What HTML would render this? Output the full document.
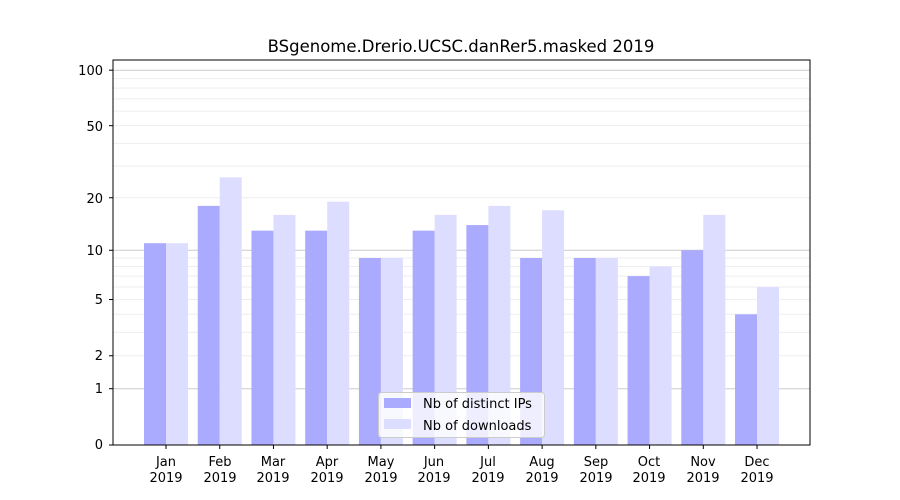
<!DOCTYPE html>
<html><head><meta charset="utf-8"><style>
body{margin:0;background:#fff}
svg{display:block;font-family:"DejaVu Sans","Liberation Sans",sans-serif}
</style></head><body>
<svg id="s" width="900" height="500" xmlns="http://www.w3.org/2000/svg">
<rect width="900" height="500" fill="#fff"/>
<g id="grid"></g>
<g id="bars"></g>
<rect x="113" y="60" width="697" height="385" fill="none" stroke="#000" stroke-width="1"/>
<g id="ticks"></g>
<text x="461" y="52" text-anchor="middle" font-size="16.5">BSgenome.Drerio.UCSC.danRer5.masked 2019</text>
<g font-size="13" text-anchor="end">
<text x="103" y="449">0</text>
<text x="103" y="393">1</text>
<text x="103" y="360">2</text>
<text x="103" y="304">5</text>
<text x="103" y="255">10</text>
<text x="103" y="203">20</text>
<text x="103" y="131">50</text>
<text x="103" y="75">100</text>
</g>
<g font-size="13" text-anchor="middle">
<text x="166" y="466">Jan</text><text x="166" y="482">2019</text>
<text x="220" y="466">Feb</text><text x="220" y="482">2019</text>
<text x="273" y="466">Mar</text><text x="273" y="482">2019</text>
<text x="327" y="466">Apr</text><text x="327" y="482">2019</text>
<text x="381" y="466">May</text><text x="381" y="482">2019</text>
<text x="434" y="466">Jun</text><text x="434" y="482">2019</text>
<text x="488" y="466">Jul</text><text x="488" y="482">2019</text>
<text x="542" y="466">Aug</text><text x="542" y="482">2019</text>
<text x="596" y="466">Sep</text><text x="596" y="482">2019</text>
<text x="649" y="466">Oct</text><text x="649" y="482">2019</text>
<text x="703" y="466">Nov</text><text x="703" y="482">2019</text>
<text x="757" y="466">Dec</text><text x="757" y="482">2019</text>
</g>
<rect x="378.5" y="392.5" width="166" height="45" rx="3" fill="#fff" fill-opacity="0.8" stroke="#ccc"/>
<rect x="384" y="398" width="27" height="10" fill="#aaaaff"/>
<rect x="384" y="419" width="27" height="10" fill="#ddddff"/>
<g font-size="13"><text x="423" y="408">Nb of distinct IPs</text><text x="423" y="430">Nb of downloads</text></g>
</svg>
<script>
var Y=function(v){return 445-187*Math.log10(1+v)};
var ns="http://www.w3.org/2000/svg";
function el(p,t,a){var e=document.createElementNS(ns,t);for(var k in a)e.setAttribute(k,a[k]);document.getElementById(p).appendChild(e);}
[2,3,4,5,6,7,8,9,20,30,40,50,60,70,80,90].forEach(function(v){var y=Y(v);el("grid","line",{x1:113,x2:810,y1:y,y2:y,stroke:"#eeeeee","stroke-width":1});});
[1,10,100].forEach(function(v){var y=Y(v);el("grid","line",{x1:113,x2:810,y1:y,y2:y,stroke:"#cccccc","stroke-width":1});});
var a=[11,18,13,13,9,13,14,9,9,7,10,4],b=[11,26,16,19,9,16,18,17,9,8,16,6];
for(var i=0;i<12;i++){var c=166+i*53.73;
el("bars","rect",{x:c-22,y:Y(a[i]),width:22,height:445-Y(a[i]),fill:"#aaaaff"});
el("bars","rect",{x:c,y:Y(b[i]),width:22,height:445-Y(b[i]),fill:"#ddddff"});
el("ticks","line",{x1:c,x2:c,y1:445,y2:449,stroke:"#000"});}
[0,1,2,5,10,20,50,100].forEach(function(v){var y=Y(v);el("ticks","line",{x1:109,x2:113,y1:y,y2:y,stroke:"#000"});});
</script>
</body></html>
